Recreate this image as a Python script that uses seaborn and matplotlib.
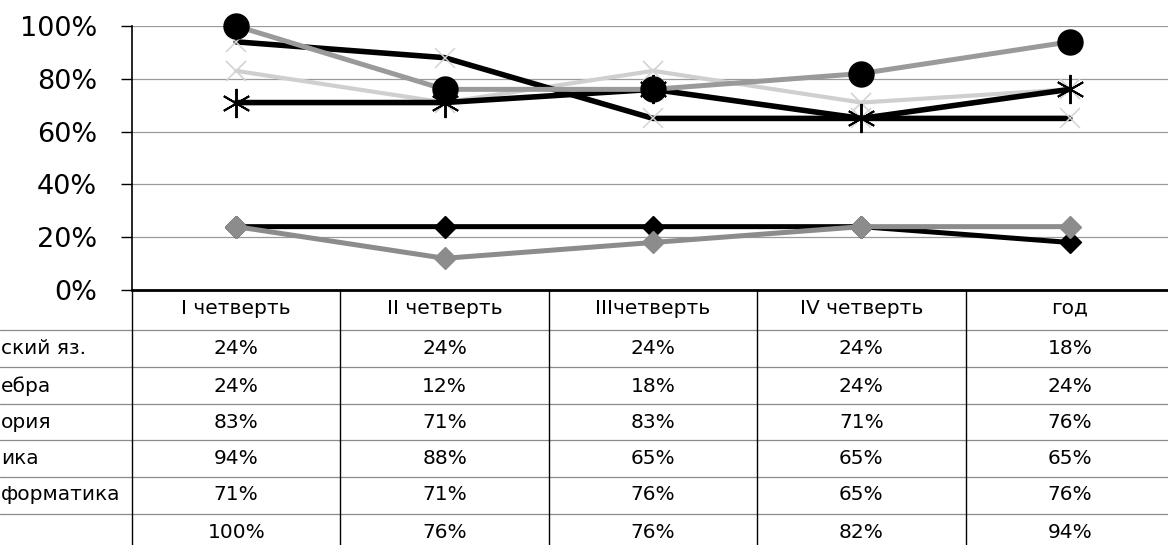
import matplotlib
matplotlib.use("Agg")
import matplotlib.pyplot as plt
import matplotlib.transforms as mtransforms
from matplotlib.lines import Line2D
import seaborn as sns
import pandas as pd

# ---------------- data ----------------
periods = ["I четверть", "II четверть", "IIIчетверть", "IV четверть", "год"]
# row labels as visible in the reference (the left part is cut off there)
subjects = ["ский яз.", "ебра", "ория", "ика", "форматика", ""]
russian = [0.24, 0.24, 0.24, 0.24, 0.18]
algebra = [0.24, 0.12, 0.18, 0.24, 0.24]
history = [0.83, 0.71, 0.83, 0.71, 0.76]
physics = [0.94, 0.88, 0.65, 0.65, 0.65]
informatics = [0.71, 0.71, 0.76, 0.65, 0.76]
sixth = [1.00, 0.76, 0.76, 0.82, 0.94]
series_values = [russian, algebra, history, physics, informatics, sixth]
yticks = [0.0, 0.2, 0.4, 0.6, 0.8, 1.0]
ytick_labels = ["0%", "20%", "40%", "60%", "80%", "100%"]

# ---------------- styles ----------------
styles = [
    dict(color="black", lw=3.6, marker="D", ms=11.5, mfc="black", mec="black", mew=1),
    dict(color="#8c8c8c", lw=3.6, marker="D", ms=11.5, mfc="#8c8c8c", mec="#8c8c8c", mew=1),
    dict(color="#cfcfcf", lw=3.0, marker="x", ms=14, mfc="none", mec="#d2d2d2", mew=1.2),
    dict(color="black", lw=4.0, marker="x", ms=15, mfc="none", mec="#d5d5d5", mew=1.1),
    dict(color="black", lw=4.0, marker=(6, 2, 0), ms=21, mfc="none", mec="black", mew=1.4),
    dict(color="#9a9a9a", lw=3.6, marker="o", ms=18, mfc="black", mec="black", mew=1),
]

sns.set_style("white")
plt.rcParams["font.family"] = ["DejaVu Sans"]
plt.rcParams["text.color"] = "black"
plt.rcParams["ytick.labelcolor"] = "black"
plt.rcParams["ytick.color"] = "black"

W, H = 1168, 545
fig = plt.figure(figsize=(W / 100, H / 100), dpi=100)

x_left, x_right = 132, 1174
y_top, y_bot = 26, 290
ax = fig.add_axes([x_left / W, 1 - y_bot / H, (x_right - x_left) / W, (y_bot - y_top) / H])

for name, vals, st in zip(subjects, series_values, styles):
    df = pd.DataFrame({"period": periods, "value": vals})
    sns.lineplot(data=df, x="period", y="value", ax=ax, sort=False,
                 color=st["color"], linewidth=st["lw"], marker=st["marker"],
                 markersize=st["ms"], markerfacecolor=st["mfc"],
                 markeredgecolor=st["mec"], markeredgewidth=st["mew"],
                 clip_on=False, legend=False)

ax.set_xlim(-0.5, 4.5)
ax.set_ylim(0, 1.0)
ax.set_yticks(yticks)
ax.set_yticklabels(ytick_labels, fontsize=19.5)
ax.set_xticks([])
ax.set_xlabel("")
ax.set_ylabel("")
ax.tick_params(axis="y", direction="out", length=8, width=1, color="black", pad=17, left=True)
for y in yticks[1:]:
    ax.axhline(y, color="#9a9a9a", lw=0.9, zorder=0)
for s in ["top", "right"]:
    ax.spines[s].set_visible(False)
ax.spines["left"].set_color("black")
ax.spines["left"].set_linewidth(1.2)
ax.spines["bottom"].set_color("black")
ax.spines["bottom"].set_linewidth(2.0)

# ---------------- data table ----------------
def fy(px):
    return 1 - px / H

btr = mtransforms.blended_transform_factory(ax.transData, fig.transFigure)
table_font = 14.5
header_y = 308
row_ys = [349, 386, 422, 459, 495, 532]
row_lines = [330, 367, 404, 440, 477, 514]

for i, p in enumerate(periods):
    fig.text(i, fy(header_y), p, transform=btr, ha="center", va="center", fontsize=table_font)
    for r, vals in enumerate(series_values):
        fig.text(i, fy(row_ys[r]), f"{round(vals[i] * 100)}%", transform=btr,
                 ha="center", va="center", fontsize=table_font)

for r, name in enumerate(subjects):
    fig.text(1 / W, fy(row_ys[r]), name, ha="left", va="center", fontsize=table_font)

for yl in row_lines:
    fig.add_artist(Line2D([0, 1], [fy(yl), fy(yl)], transform=fig.transFigure,
                          color="#8a8a8a", lw=0.9))
for b in [-0.5, 0.5, 1.5, 2.5, 3.5, 4.5]:
    fig.add_artist(Line2D([b, b], [fy(290), fy(545)], transform=btr,
                          color="black", lw=1.0))

fig.savefig("out.png", dpi=100)
